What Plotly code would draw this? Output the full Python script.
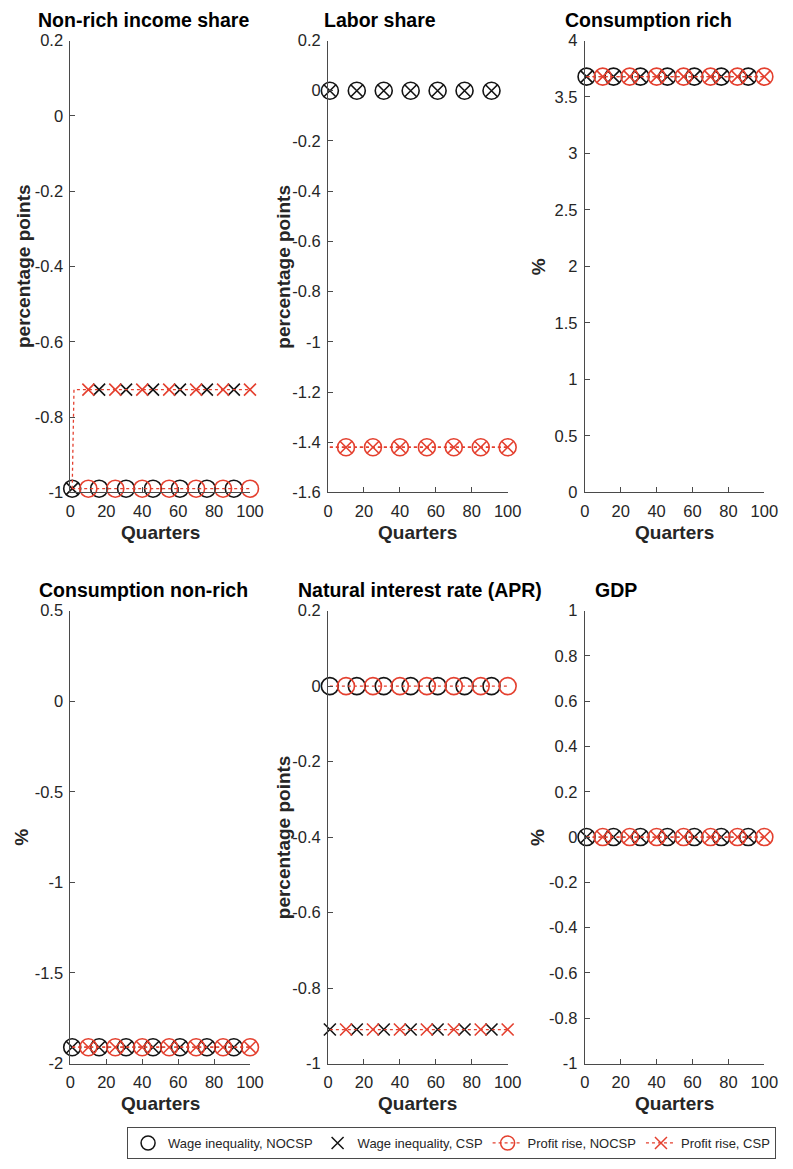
import plotly.graph_objects as go

W, H = 793, 1169

# ---------------- data ----------------
quarters_wi = [1, 16, 31, 46, 61, 76, 91]        # marker positions, wage inequality runs
quarters_pr = [10, 25, 40, 55, 70, 85, 100]      # marker positions, profit rise runs
x_tickvals = [0, 20, 40, 60, 80, 100]
x_ticktext = ["0", "20", "40", "60", "80", "100"]

titles = ["Non-rich income share", "Labor share", "Consumption rich",
          "Consumption non-rich", "Natural interest rate (APR)", "GDP"]
ylabels = ["percentage points", "percentage points", "%",
           "%", "percentage points", "%"]

# Non-rich income share
nris_wi_nocsp = [-0.99, -0.99, -0.99, -0.99, -0.99, -0.99, -0.99]
nris_wi_csp = [-0.99, -0.727, -0.727, -0.727, -0.727, -0.727, -0.727]
nris_pr_nocsp = [-0.99, -0.99, -0.99, -0.99, -0.99, -0.99, -0.99]
nris_pr_csp = [-0.727, -0.727, -0.727, -0.727, -0.727, -0.727, -0.727]
nris_line_q = [1, 2, 100]
nris_line_nocsp = [-0.99, -0.99, -0.99]
nris_line_csp = [-0.99, -0.727, -0.727]
nris_yticks = [-1, -0.8, -0.6, -0.4, -0.2, 0, 0.2]
nris_yticktext = ["-1", "-0.8", "-0.6", "-0.4", "-0.2", "0", "0.2"]

# Labor share
ls_wi_nocsp = [0, 0, 0, 0, 0, 0, 0]
ls_wi_csp = [0, 0, 0, 0, 0, 0, 0]
ls_pr_nocsp = [-1.42, -1.42, -1.42, -1.42, -1.42, -1.42, -1.42]
ls_pr_csp = [-1.42, -1.42, -1.42, -1.42, -1.42, -1.42, -1.42]
ls_line_q = [1, 100]
ls_line_nocsp = [-1.42, -1.42]
ls_line_csp = [-1.42, -1.42]
ls_yticks = [-1.6, -1.4, -1.2, -1, -0.8, -0.6, -0.4, -0.2, 0, 0.2]
ls_yticktext = ["-1.6", "-1.4", "-1.2", "-1", "-0.8", "-0.6", "-0.4", "-0.2", "0", "0.2"]

# Consumption rich
cr_wi_nocsp = [3.68, 3.68, 3.68, 3.68, 3.68, 3.68, 3.68]
cr_wi_csp = [3.68, 3.68, 3.68, 3.68, 3.68, 3.68, 3.68]
cr_pr_nocsp = [3.68, 3.68, 3.68, 3.68, 3.68, 3.68, 3.68]
cr_pr_csp = [3.68, 3.68, 3.68, 3.68, 3.68, 3.68, 3.68]
cr_line_q = [1, 100]
cr_line_nocsp = [3.68, 3.68]
cr_line_csp = [3.68, 3.68]
cr_yticks = [0, 0.5, 1, 1.5, 2, 2.5, 3, 3.5, 4]
cr_yticktext = ["0", "0.5", "1", "1.5", "2", "2.5", "3", "3.5", "4"]

# Consumption non-rich
cn_wi_nocsp = [-1.91, -1.91, -1.91, -1.91, -1.91, -1.91, -1.91]
cn_wi_csp = [-1.91, -1.91, -1.91, -1.91, -1.91, -1.91, -1.91]
cn_pr_nocsp = [-1.91, -1.91, -1.91, -1.91, -1.91, -1.91, -1.91]
cn_pr_csp = [-1.91, -1.91, -1.91, -1.91, -1.91, -1.91, -1.91]
cn_line_q = [1, 100]
cn_line_nocsp = [-1.91, -1.91]
cn_line_csp = [-1.91, -1.91]
cn_yticks = [-2, -1.5, -1, -0.5, 0, 0.5]
cn_yticktext = ["-2", "-1.5", "-1", "-0.5", "0", "0.5"]

# Natural interest rate (APR)
nr_wi_nocsp = [0, 0, 0, 0, 0, 0, 0]
nr_wi_csp = [-0.91, -0.91, -0.91, -0.91, -0.91, -0.91, -0.91]
nr_pr_nocsp = [0, 0, 0, 0, 0, 0, 0]
nr_pr_csp = [-0.91, -0.91, -0.91, -0.91, -0.91, -0.91, -0.91]
nr_line_q = [1, 100]
nr_line_nocsp = [0, 0]
nr_line_csp = [-0.91, -0.91]
nr_yticks = [-1, -0.8, -0.6, -0.4, -0.2, 0, 0.2]
nr_yticktext = ["-1", "-0.8", "-0.6", "-0.4", "-0.2", "0", "0.2"]

# GDP
gdp_wi_nocsp = [0, 0, 0, 0, 0, 0, 0]
gdp_wi_csp = [0, 0, 0, 0, 0, 0, 0]
gdp_pr_nocsp = [0, 0, 0, 0, 0, 0, 0]
gdp_pr_csp = [0, 0, 0, 0, 0, 0, 0]
gdp_line_q = [1, 100]
gdp_line_nocsp = [0, 0]
gdp_line_csp = [0, 0]
gdp_yticks = [-1, -0.8, -0.6, -0.4, -0.2, 0, 0.2, 0.4, 0.6, 0.8, 1]
gdp_yticktext = ["-1", "-0.8", "-0.6", "-0.4", "-0.2", "0", "0.2", "0.4", "0.6", "0.8", "1"]

legend_names = ["Wage inequality, NOCSP", "Wage inequality, CSP",
                "Profit rise, NOCSP", "Profit rise, CSP"]

panels = [
    (nris_wi_nocsp, nris_wi_csp, nris_pr_nocsp, nris_pr_csp, nris_line_q, nris_line_nocsp, nris_line_csp, nris_yticks, nris_yticktext),
    (ls_wi_nocsp, ls_wi_csp, ls_pr_nocsp, ls_pr_csp, ls_line_q, ls_line_nocsp, ls_line_csp, ls_yticks, ls_yticktext),
    (cr_wi_nocsp, cr_wi_csp, cr_pr_nocsp, cr_pr_csp, cr_line_q, cr_line_nocsp, cr_line_csp, cr_yticks, cr_yticktext),
    (cn_wi_nocsp, cn_wi_csp, cn_pr_nocsp, cn_pr_csp, cn_line_q, cn_line_nocsp, cn_line_csp, cn_yticks, cn_yticktext),
    (nr_wi_nocsp, nr_wi_csp, nr_pr_nocsp, nr_pr_csp, nr_line_q, nr_line_nocsp, nr_line_csp, nr_yticks, nr_yticktext),
    (gdp_wi_nocsp, gdp_wi_csp, gdp_pr_nocsp, gdp_pr_csp, gdp_line_q, gdp_line_nocsp, gdp_line_csp, gdp_yticks, gdp_yticktext),
]

# ---------------- styling / layout ----------------
FONT = "Liberation Sans, Arial, Helvetica, sans-serif"
RED = "#E4402F"
BLACK = "#141414"
AXC = "#4a4a4a"
TXT = "#262626"

col_left = [67, 331, 594]
col_w = 184
row_top = [32, 611]
row_bot = [491, 1071]

title_x = [32, 325, 572, 33, 298, 602]
title_y = [11, 11, 11, 590, 590, 590]
ylab_x = [19, 285, 547, 16, 285, 545]
xlab_y = [532, 1112]


def px(x):
    return x / W


def py(y):
    return 1 - y / H


circ = dict(symbol="circle-open", size=17, line=dict(width=1.6))
xmk = dict(symbol="x-thin-open", size=12, line=dict(width=1.6))

fig = go.Figure()
layout = dict(
    width=W, height=H, margin=dict(l=0, r=0, t=0, b=0),
    paper_bgcolor="white", plot_bgcolor="white",
    font=dict(family=FONT, color=TXT),
    showlegend=True,
    legend=dict(orientation="h", x=px(790), xanchor="right", y=py(1168), yanchor="bottom",
                bordercolor=AXC, borderwidth=1, bgcolor="white",
                font=dict(size=13, color=TXT, family=FONT), itemwidth=30),
)
annotations = []

for i, (wn, wc, pn, pc, lq, ln, lc, yt, ytt) in enumerate(panels):
    r, c = divmod(i, 3)
    sfx = "" if i == 0 else str(i + 1)
    xa, ya = "x" + sfx, "y" + sfx
    x0, x1 = col_left[c], col_left[c] + col_w
    y0, y1 = row_top[r], row_bot[r]

    fig.add_trace(go.Scatter(x=quarters_wi, y=wn, mode="markers", xaxis=xa, yaxis=ya,
                             marker=dict(color=BLACK, **circ), cliponaxis=False, showlegend=False))
    fig.add_trace(go.Scatter(x=quarters_wi, y=wc, mode="markers", xaxis=xa, yaxis=ya,
                             marker=dict(color=BLACK, **xmk), cliponaxis=False, showlegend=False))
    fig.add_trace(go.Scatter(x=lq, y=ln, mode="lines", xaxis=xa, yaxis=ya,
                             line=dict(color=RED, width=1.3, dash="dot"), cliponaxis=False, showlegend=False))
    fig.add_trace(go.Scatter(x=quarters_pr, y=pn, mode="markers", xaxis=xa, yaxis=ya,
                             marker=dict(color=RED, **circ), cliponaxis=False, showlegend=False))
    fig.add_trace(go.Scatter(x=lq, y=lc, mode="lines", xaxis=xa, yaxis=ya,
                             line=dict(color=RED, width=1.3, dash="dot"), cliponaxis=False, showlegend=False))
    fig.add_trace(go.Scatter(x=quarters_pr, y=pc, mode="markers", xaxis=xa, yaxis=ya,
                             marker=dict(color=RED, **xmk), cliponaxis=False, showlegend=False))

    common = dict(showline=True, linecolor=AXC, linewidth=1, mirror=False, showgrid=False,
                  zeroline=False, ticks="inside", ticklen=5, tickwidth=1, tickcolor=AXC,
                  tickfont=dict(size=16.5, color=TXT, family=FONT), tickmode="array")
    layout["xaxis" + sfx] = dict(domain=[px(x0), px(x1)], range=[0, 100], anchor=ya,
                                 tickvals=x_tickvals, ticktext=x_ticktext, ticklabelstandoff=4, **common)
    layout["yaxis" + sfx] = dict(domain=[py(y1), py(y0)], range=[yt[0], yt[-1]], anchor=xa,
                                 tickvals=yt, ticktext=ytt, ticklabelstandoff=3, **common)

    annotations.append(dict(text="<b>" + titles[i] + "</b>", xref="paper", yref="paper",
                            x=px(title_x[i]), y=py(title_y[i]), xanchor="left", yanchor="middle",
                            showarrow=False, font=dict(size=19.5, color="#000000", family=FONT)))
    annotations.append(dict(text="<b>" + ylabels[i] + "</b>", xref="paper", yref="paper",
                            x=px(ylab_x[i]), y=py((y0 + y1) / 2), xanchor="center", yanchor="middle",
                            textangle=-90, showarrow=False, font=dict(size=19, color=TXT, family=FONT)))
    annotations.append(dict(text="<b>Quarters</b>", xref="paper", yref="paper",
                            x=px((x0 + x1) / 2), y=py(xlab_y[r]), xanchor="center", yanchor="middle",
                            showarrow=False, font=dict(size=19, color=TXT, family=FONT)))

# legend-only entries
fig.add_trace(go.Scatter(x=[None], y=[None], mode="markers", name=legend_names[0],
                         marker=dict(color=BLACK, symbol="circle-open", size=14, line=dict(width=1.5))))
fig.add_trace(go.Scatter(x=[None], y=[None], mode="markers", name=legend_names[1],
                         marker=dict(color=BLACK, symbol="x-thin-open", size=12, line=dict(width=1.5))))
fig.add_trace(go.Scatter(x=[None], y=[None], mode="lines+markers", name=legend_names[2],
                         line=dict(color=RED, width=1.3, dash="dot"),
                         marker=dict(color=RED, symbol="circle-open", size=14, line=dict(width=1.5))))
fig.add_trace(go.Scatter(x=[None], y=[None], mode="lines+markers", name=legend_names[3],
                         line=dict(color=RED, width=1.3, dash="dot"),
                         marker=dict(color=RED, symbol="x-thin-open", size=12, line=dict(width=1.5))))

layout["annotations"] = annotations
fig.update_layout(**layout)
fig.write_html("out.html")
